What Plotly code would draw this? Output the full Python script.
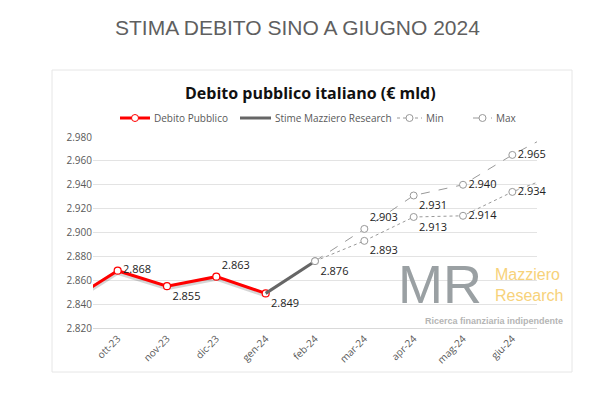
import plotly.graph_objects as go

months = ["ott-23", "nov-23", "dic-23", "gen-24", "feb-24", "mar-24", "apr-24", "mag-24", "giu-24"]

# actual debt (set-23 point is off the left edge of the axis)
debt_x = [-1, 0, 1, 2, 3]
debt_y = [2842, 2868, 2855, 2863, 2849]
est_x = [3, 4]
est_y = [2849, 2876]
# scenarios (lug-24 point is off the right edge)
scen_x = [4, 5, 6, 7, 8, 9]
min_y = [2876, 2893, 2913, 2914, 2934, 2950]
max_y = [2876, 2903, 2931, 2940, 2965, 2987]

W, H = 594, 401
OFF = 8  # page body margin
L, R, T, B = 93 - OFF, 537 - OFF, 137 - OFF, 328 - OFF


def px(x):
    return (x - OFF - L) / (R - L)


def py(y):
    return (B - (y - OFF)) / (B - T)


def fmt(v):
    return "{:,}".format(v).replace(",", ".")


lbl = dict(size=11, color="#222", family="Open Sans, sans-serif")

fig = go.Figure()
fig.add_trace(go.Scatter(x=debt_x, y=[v - 1.3 for v in debt_y], mode="lines",
                         line=dict(color="rgba(0,0,0,0.16)", width=5), hoverinfo="skip"))
fig.add_trace(go.Scatter(x=debt_x, y=debt_y, mode="lines+markers+text",
                         line=dict(color="#ff0000", width=3),
                         marker=dict(size=7, color="white", line=dict(color="#ff0000", width=1.2)),
                         text=[""] + [fmt(v) for v in debt_y[1:]],
                         textposition=["middle right", "middle right", "bottom right", "top right", "bottom right"],
                         textfont=lbl, cliponaxis=False))
fig.add_trace(go.Scatter(x=est_x, y=est_y, mode="lines", line=dict(color="#666666", width=3)))
fig.add_trace(go.Scatter(x=scen_x, y=min_y, mode="lines+markers+text",
                         line=dict(color="#999999", width=1, dash="dot"),
                         marker=dict(size=7, color="white", line=dict(color="#999", width=1)),
                         text=[fmt(est_y[-1])] + [fmt(v) for v in min_y[1:-1]] + [""],
                         textposition=["bottom right", "bottom right", "bottom right", "middle right", "middle right", "middle right"],
                         textfont=lbl, cliponaxis=False))
fig.add_trace(go.Scatter(x=scen_x, y=max_y, mode="lines+markers+text",
                         line=dict(color="#999999", width=1, dash="dash"),
                         marker=dict(size=7, color="white", line=dict(color="#999", width=1)),
                         text=[""] + [fmt(v) for v in max_y[1:-1]] + [""],
                         textposition=["middle right", "top right", "bottom right", "middle right", "middle right", "middle right"],
                         textfont=lbl, cliponaxis=False))

# manual legend
leg_y = py(118)
leg = [("Debito Pubblico", 120, 150, "#ff0000", 3, "solid", "#ff0000"),
       ("Stime Mazziero Research", 240, 271, "#666666", 3, "solid", None),
       ("Min", 397, 422, "#999999", 1, "dot", "#999"),
       ("Max", 473, 492, "#999999", 1, "dash", "#999")]
shapes = [dict(type="rect", xref="paper", yref="paper", x0=px(52), x1=px(572), y0=py(372), y1=py(70),
               line=dict(color="#e6e6e6", width=1), layer="below")]
annotations = []
for name, x0, x1, col, w, dash, mk in leg:
    shapes.append(dict(type="line", xref="paper", yref="paper", x0=px(x0), x1=px(x1), y0=leg_y, y1=leg_y,
                       line=dict(color=col, width=w, dash=dash)))
    if mk:
        xc = (x0 + x1) / 2
        shapes.append(dict(type="circle", xref="paper", yref="paper", x0=px(xc - 3.5), x1=px(xc + 3.5),
                           y0=py(118 + 3.5), y1=py(118 - 3.5), fillcolor="white", line=dict(color=mk, width=1)))
    annotations.append(dict(text=name, xref="paper", yref="paper", x=px(x1 + 2), y=leg_y, xanchor="left",
                            yanchor="middle", showarrow=False, font=dict(size=10, color="#595959")))

annotations += [
    dict(text="STIMA DEBITO SINO A GIUGNO 2024", x=px(297), y=py(28), xanchor="center",
         font=dict(size=21, color="#5f5f5f", family="Liberation Sans, Arial")),
    dict(text="<b>Debito pubblico italiano (€ mld)</b>", x=px(310), y=py(93), xanchor="center",
         font=dict(size=16, color="#111", family="Open Sans, sans-serif")),
    dict(text="MR", x=px(440), y=py(284), xanchor="center",
         font=dict(size=54, color="#9aa0a3", family="Liberation Sans")),
    dict(text="Mazziero<br>Research", x=px(565), y=py(285), xanchor="right", align="left",
         font=dict(size=16, color="#f7d27a", family="Liberation Sans")),
    dict(text="<b>Ricerca finanziaria indipendente</b>", x=px(565), y=py(321), xanchor="right",
         font=dict(size=9, color="#b5b5b5", family="Liberation Sans")),
]
for a in annotations[-5:]:
    a.update(xref="paper", yref="paper", yanchor="middle", showarrow=False)

fig.update_layout(
    width=W, height=H, autosize=False, showlegend=False,
    paper_bgcolor="white", plot_bgcolor="white",
    margin=dict(l=L, r=W - R, t=T, b=H - B, autoexpand=False),
    font=dict(family="Open Sans, sans-serif", color="#595959"),
    shapes=shapes, annotations=annotations,
)
fig.update_xaxes(range=[-0.5, 8.5], tickmode="array", tickvals=list(range(9)), ticktext=months,
                 tickangle=-45, tickfont=dict(size=10, color="#595959"), showgrid=False,
                 showline=True, linecolor="#d9d9d9", zeroline=False, automargin=False)
fig.update_yaxes(range=[2820, 2980], showgrid=True, gridcolor="#e3e3e3",
                 tickfont=dict(size=10, color="#595959"), zeroline=False, automargin=False,
                 tickvals=list(range(2820, 2981, 20)),
                 ticktext=["2." + str(v)[1:] for v in range(2820, 2981, 20)])

fig.write_html("out.html")
